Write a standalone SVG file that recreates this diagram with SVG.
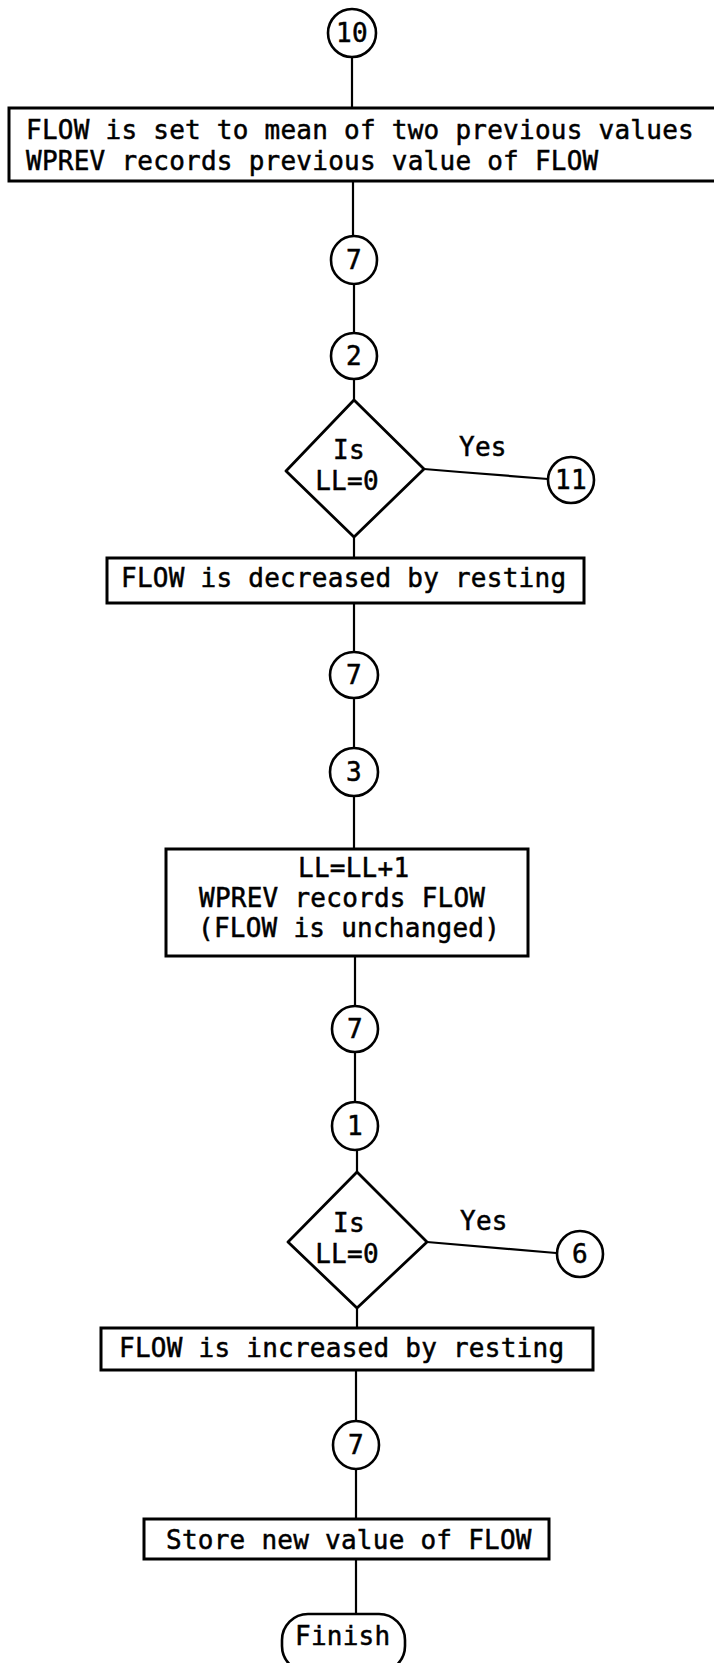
<svg xmlns="http://www.w3.org/2000/svg" width="714" height="1663" viewBox="0 0 714 1663">
  <style>
    .box { fill: #fff; stroke: #000; stroke-width: 3; }
    .conn { fill: #fff; stroke: #000; stroke-width: 2.6; }
    .dec { fill: #fff; stroke: #000; stroke-width: 2.8; stroke-linejoin: round; }
    .wire { fill: none; stroke: #000; stroke-width: 2.2; }
    text { font-family: "DejaVu Sans Mono", "Liberation Mono", monospace; font-size: 26px; letter-spacing: 0.25px; fill: #000; stroke: #000; stroke-width: 0.5; }
    .mid { text-anchor: middle; }
  </style>
  <rect width="714" height="1663" fill="#fff"/>

  <!-- flow lines -->
  <g id="connectors">
    <line class="wire" x1="352" y1="57" x2="352" y2="108"/>
    <line class="wire" x1="353" y1="181" x2="353" y2="236"/>
    <line class="wire" x1="354" y1="284" x2="354" y2="333"/>
    <line class="wire" x1="354" y1="379" x2="354" y2="400"/>
    <polyline class="wire" points="424,469 460,472 548,479"/>
    <line class="wire" x1="354" y1="537" x2="354" y2="558"/>
    <line class="wire" x1="354" y1="603" x2="354" y2="652"/>
    <line class="wire" x1="354" y1="698" x2="354" y2="748"/>
    <line class="wire" x1="354" y1="796" x2="354" y2="849"/>
    <line class="wire" x1="355" y1="956" x2="355" y2="1006"/>
    <line class="wire" x1="355" y1="1052" x2="355" y2="1102"/>
    <line class="wire" x1="357" y1="1150" x2="357" y2="1172"/>
    <line class="wire" x1="427" y1="1242" x2="556" y2="1253"/>
    <line class="wire" x1="357" y1="1308" x2="357" y2="1328"/>
    <line class="wire" x1="356" y1="1370" x2="356" y2="1421"/>
    <line class="wire" x1="356" y1="1469" x2="356" y2="1519"/>
    <line class="wire" x1="356" y1="1559" x2="356" y2="1614"/>
  </g>

  <g id="c10">
    <ellipse class="conn" cx="352" cy="33" rx="24" ry="24"/>
    <text class="mid" x="352" y="42" letter-spacing="-1">10</text>
  </g>

  <g id="mean">
    <rect class="box" x="9" y="108" width="712" height="73"/>
    <text x="26" y="139">FLOW is set to mean of two previous values</text>
    <text x="26" y="170">WPREV records previous value of FLOW</text>
  </g>

  <g id="c7a">
    <ellipse class="conn" cx="354" cy="260" rx="23" ry="24"/>
    <text class="mid" x="354" y="269">7</text>
  </g>

  <g id="c2">
    <ellipse class="conn" cx="354" cy="356" rx="23" ry="23"/>
    <text class="mid" x="354" y="365">2</text>
  </g>

  <g id="ll0a">
    <polygon class="dec" points="354,400 424,469 354,537 286,471"/>
    <text class="mid" x="349" y="459">Is</text>
    <text class="mid" x="347" y="490">LL=0</text>
  </g>

  <g id="yes11">
    <text x="459" y="456">Yes</text>
  </g>

  <g id="c11">
    <ellipse class="conn" cx="571" cy="480" rx="23" ry="23"/>
    <text class="mid" x="571" y="489" letter-spacing="-3">11</text>
  </g>

  <g id="decrease">
    <rect class="box" x="107" y="558" width="477" height="45"/>
    <text x="121" y="587">FLOW is decreased by resting</text>
  </g>

  <g id="c7b">
    <ellipse class="conn" cx="354" cy="675" rx="24" ry="23"/>
    <text class="mid" x="354" y="684">7</text>
  </g>

  <g id="c3">
    <ellipse class="conn" cx="354" cy="772" rx="24" ry="24"/>
    <text class="mid" x="354" y="781">3</text>
  </g>

  <g id="count">
    <rect class="box" x="166" y="849" width="362" height="107"/>
    <text x="298" y="877">LL=LL+1</text>
    <text x="199" y="907">WPREV records FLOW</text>
    <text x="198" y="937">(FLOW is unchanged)</text>
  </g>

  <g id="c7c">
    <ellipse class="conn" cx="355" cy="1029" rx="23" ry="23"/>
    <text class="mid" x="355" y="1038">7</text>
  </g>

  <g id="c1">
    <ellipse class="conn" cx="355" cy="1126" rx="23" ry="24"/>
    <text class="mid" x="355" y="1135">1</text>
  </g>

  <g id="ll0b">
    <polygon class="dec" points="357,1172 427,1242 357,1308 288,1242"/>
    <text class="mid" x="349" y="1232">Is</text>
    <text class="mid" x="347" y="1263">LL=0</text>
  </g>

  <g id="yes6">
    <text x="460" y="1230">Yes</text>
  </g>

  <g id="c6">
    <ellipse class="conn" cx="580" cy="1254" rx="23" ry="23"/>
    <text class="mid" x="580" y="1263">6</text>
  </g>

  <g id="increase">
    <rect class="box" x="101" y="1328" width="492" height="42"/>
    <text x="119" y="1357">FLOW is increased by resting</text>
  </g>

  <g id="c7d">
    <ellipse class="conn" cx="356" cy="1445" rx="23" ry="24"/>
    <text class="mid" x="356" y="1454">7</text>
  </g>

  <g id="store">
    <rect class="box" x="144" y="1519" width="405" height="40"/>
    <text x="166" y="1549">Store new value of FLOW</text>
  </g>

  <g id="finish">
    <rect class="conn" x="282" y="1614" width="123" height="58" rx="26" ry="26"/>
    <text x="295" y="1645">Finish</text>
  </g>
</svg>
